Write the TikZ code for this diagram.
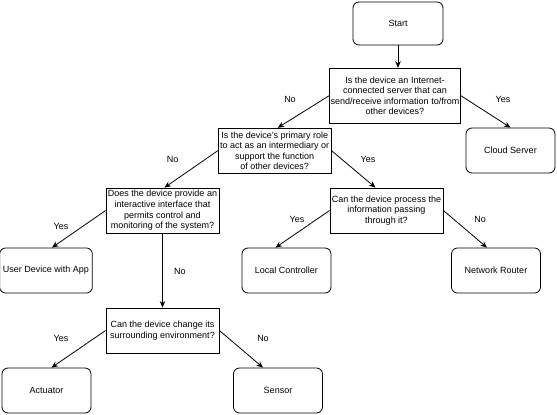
\documentclass[tikz,border=0pt]{standalone}
\usepackage{fontspec}
\setmainfont{Liberation Sans}
\usetikzlibrary{arrows.meta}
\begin{document}
\begin{tikzpicture}[x=1pt,y=-1pt,
  every node/.style={font=\fontsize{9}{10.6}\selectfont},
  question/.style={draw,line width=0.8pt,align=center,inner sep=1pt,
    minimum width=113pt,minimum height=45pt},
  device/.style={draw,line width=0.8pt,rounded corners=6pt,align=center,
    minimum width=89pt,minimum height=45pt},
  link/.style={-{Stealth[length=6.5pt,width=5.5pt]},line width=0.8pt},
  answer/.style={}]
  \useasboundingbox (0,0) rectangle (557,415);
  % \draw[gray] (0,0) rectangle (557,415);

  \node[device,minimum width=90pt,minimum height=43pt] (start) at (398,23.5) {Start};
  \node[question,minimum width=131pt,minimum height=55pt] (q1) at (395,95.7)
    {Is the device an Internet-\\connected server that can\\
     send/receive information to/from\\other devices?};
  \node[device] (cloud) at (510.5,150.5) {Cloud Server};
  \node[question] (q2) at (274.7,150.7)
    {Is the device's primary role\\to act as an intermediary or\\
     support the function\\of other devices?};
  \node[question] (q3) at (162.5,210.5)
    {Does the device provide an\\interactive interface that\\
     permits control and\\monitoring of the system?};
  \node[question] (q5) at (386.5,210.5)
    {Can the device process the\\information passing\\through it?};
  \node[device] (user) at (46,270.5) {User Device with App};
  \node[device] (local) at (286.5,270.5) {Local Controller};
  \node[device] (router) at (496,270.5) {Network Router};
  \node[question] (q4) at (162.5,330.5)
    {Can the device change its\\surrounding environment?};
  \node[device] (actuator) at (46.5,390.5) {Actuator};
  \node[device] (sensor) at (278,390.5) {Sensor};

  \draw[link] (start) -- (start |- q1.north);
  \draw[link] (q1.west) -- ([xshift=3pt]q2.north);
  \draw[link] (q1.east) -- (cloud.north);
  \draw[link] (q2.west) -- ([xshift=2pt]q3.north);
  \draw[link] (q2.east) -- ([xshift=-11pt]q5.north);
  \draw[link] (q3.west) -- ([xshift=6pt]user.north);
  \draw[link] (q3) -- (q4);
  \draw[link] (q5.west) -- ([xshift=-11pt]local.north);
  \draw[link] (q5.east) -- ([xshift=-9pt]router.north);
  \draw[link] (q4.west) -- ([xshift=5pt]actuator.north);
  \draw[link] (q4.east) -- ([xshift=-15pt]sensor.north);

  \node[answer] (no1) at (290,99) {No};
  \node[answer] (yes1) at (503,99) {Yes};
  \node[answer] (no2) at (172.7,159) {No};
  \node[answer] (yes2) at (368,159) {Yes};
  \node[answer] (yes3) at (61,226) {Yes};
  \node[answer] (no3) at (180,271) {No};
  \node[answer] (yes5) at (297,219) {Yes};
  \node[answer] (no5) at (480,219) {No};
  \node[answer] (yes4) at (61,338) {Yes};
  \node[answer] (no4) at (263,338) {No};
\end{tikzpicture}
\end{document}
